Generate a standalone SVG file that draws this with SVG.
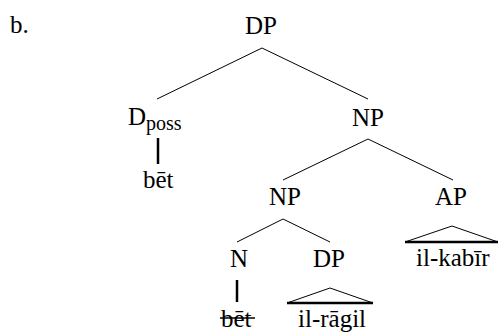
<svg xmlns="http://www.w3.org/2000/svg" width="499" height="334" viewBox="0 0 499 334">
  <rect width="499" height="334" fill="#fff"/>

  <g id="connectors" stroke="#000" stroke-width="1" fill="none">
    <line x1="262" y1="48" x2="157" y2="99"/>
    <line x1="262" y1="48" x2="368" y2="99"/>
    <line x1="368" y1="139" x2="283" y2="180"/>
    <line x1="368" y1="139" x2="453" y2="180"/>
    <line x1="283" y1="219" x2="237" y2="242"/>
    <line x1="283" y1="219" x2="330" y2="242"/>
    <line x1="158" y1="138" x2="158" y2="164" stroke-width="2.5"/>
    <line x1="237" y1="280" x2="237" y2="302" stroke-width="2.5"/>
    <!-- roof over the AP phrase -->
    <polyline points="405,242 452,226 498,242"/>
    <line x1="405" y1="242" x2="498" y2="242" stroke-width="2.5"/>
    <!-- roof over the lower DP phrase -->
    <polyline points="287,303 330,288 373,303"/>
    <line x1="287" y1="303" x2="373" y2="303" stroke-width="2.5"/>
  </g>

  <text x="10" y="33" font-family="Times New Roman" font-size="25">b.</text>
  <g id="dp-root"><text x="245" y="34" font-family="Times New Roman" font-size="25">DP</text></g>
  <g id="d-poss">
    <text x="128" y="125" font-family="Times New Roman" font-size="25">D</text>
    <text x="146" y="130" font-family="Times New Roman" font-size="20">poss</text>
  </g>
  <g id="bet-head"><text x="143" y="188" font-family="Times New Roman" font-size="25">b&#x113;t</text></g>
  <g id="np-top"><text x="352" y="126" font-family="Times New Roman" font-size="25">NP</text></g>
  <g id="np-low"><text x="269" y="205" font-family="Times New Roman" font-size="25">NP</text></g>
  <g id="ap"><text x="435" y="205" font-family="Times New Roman" font-size="25">AP</text></g>
  <g id="n"><text x="230" y="267" font-family="Times New Roman" font-size="25">N</text></g>
  <g id="dp-low"><text x="313" y="267" font-family="Times New Roman" font-size="25">DP</text></g>
  <g id="il-kabir"><text x="416" y="266" font-family="Times New Roman" font-size="25">il-kab&#x12B;r</text></g>
  <g id="bet-trace">
    <text x="221" y="327" font-family="Times New Roman" font-size="25">b&#x113;t</text>
    <line x1="220" y1="318" x2="255" y2="318" stroke="#000" stroke-width="1.5"/>
  </g>
  <g id="il-ragil"><text x="298" y="327" font-family="Times New Roman" font-size="25">il-r&#x101;gil</text></g>
</svg>
